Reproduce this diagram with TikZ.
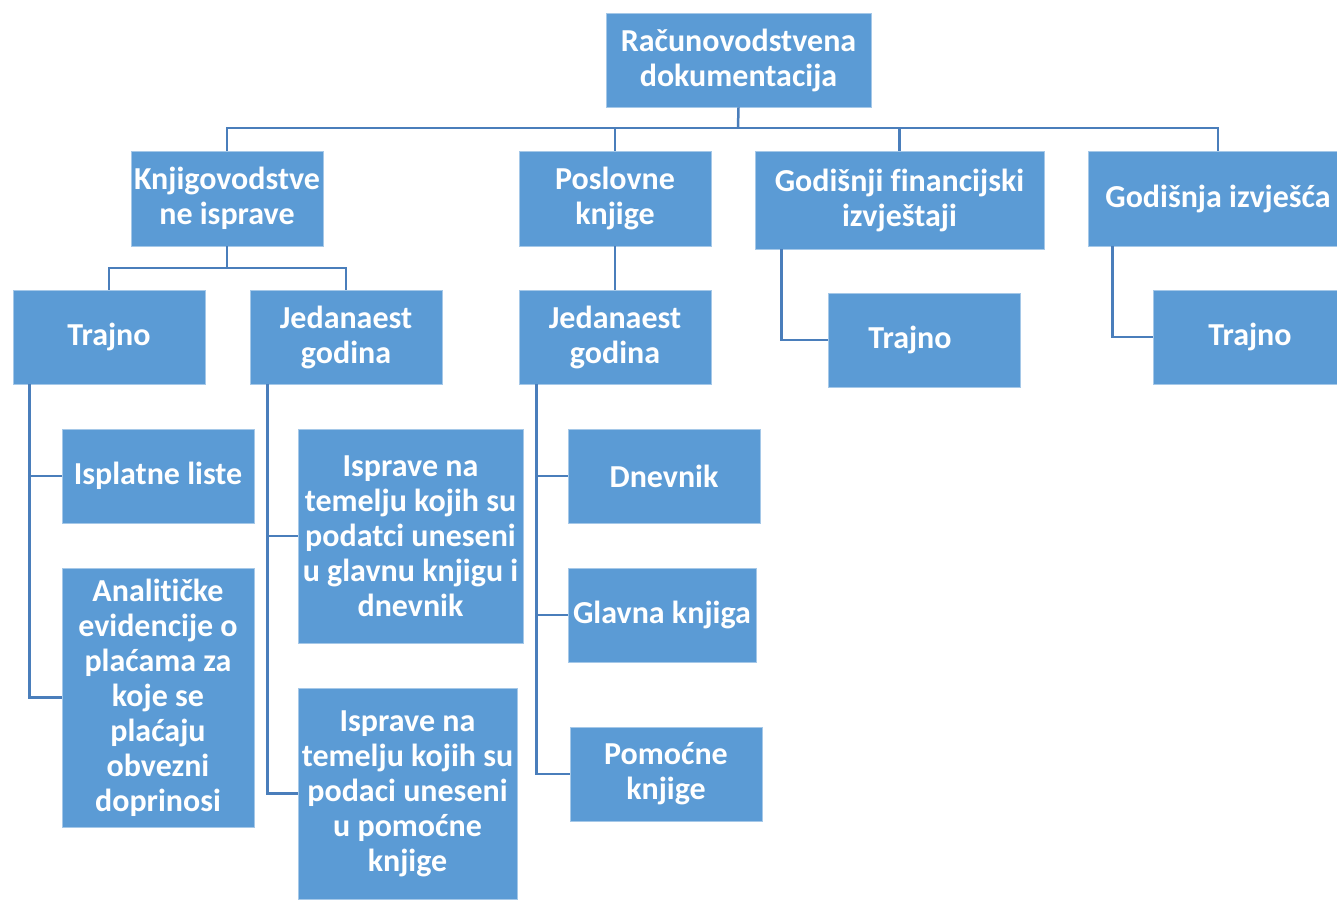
\documentclass[tikz,border=0pt]{standalone}
\usepackage{fontspec}
\setmainfont{Carlito}[Ligatures=NoCommon]
\definecolor{boxblue}{HTML}{5B9BD5}
\definecolor{lineblue}{HTML}{4A7EBB}
\begin{document}
\begin{tikzpicture}[x=1pt,y=-1pt,
  box/.style={fill=boxblue,draw=boxblue!55!white,line width=0.8pt,text=white,
    font=\bfseries\fontsize{32}{35}\selectfont,align=center,inner sep=0pt},
  conn/.style={draw=lineblue,line width=2.5pt}]
\useasboundingbox (0,0) rectangle (1337,900);
\clip (0,0) rectangle (1337,900);
% helper macro for placing box by corners
\newcommand{\pbox}[6]{\node[box,minimum width={#4-#2},minimum height={#5-#3}] (#1) at ({(#2+#4)/2},{(#3+#5)/2}) {#6};}
\pbox{root}{606}{13}{871}{107}{Računovodstvena\\dokumentacija}
\pbox{knj}{131}{151}{323}{246}{Knjigovodstve\\ne isprave}
\pbox{posl}{519}{151}{711}{246}{Poslovne\\knjige}
\pbox{gfi}{755}{151}{1044}{249}{Godišnji financijski\\izvještaji}
\pbox{giz}{1088}{151}{1348}{246}{Godišnja izvješća}
\pbox{traj1}{13}{290}{205}{384}{Trajno}
\pbox{jed1}{250}{290}{442}{384}{Jedanaest\\godina}
\pbox{jed2}{519}{290}{711}{384}{Jedanaest\\godina}
\pbox{traj2}{828}{293}{1020}{387}{Trajno\hspace*{28pt}}
\pbox{traj3}{1153}{290}{1347}{384}{Trajno}
\pbox{ispl}{62}{429}{254}{523}{Isplatne liste}
\pbox{anal}{62}{568}{254}{827}{Analitičke\\evidencije o\\plaćama za\\koje se\\plaćaju\\obvezni\\doprinosi}
\pbox{isp1}{298}{429}{523}{643}{Isprave na\\temelju kojih su\\podatci uneseni\\u glavnu knjigu i\\dnevnik}
\pbox{isp2}{298}{688}{517}{899}{Isprave na\\temelju kojih su\\podaci uneseni\\u pomoćne\\knjige}
\pbox{dnev}{568}{429}{760}{523}{Dnevnik}
\pbox{glav}{568}{568}{756}{662}{Glavna knjiga}
\pbox{pom}{570}{727}{762}{821}{Pomoćne\\knjige}
% connectors
\coordinate (bus) at (738,128);
\draw[conn] (root.south) -- (bus);
\draw[conn] (knj.north) |- (bus) -| (giz.north);
\draw[conn] (posl.north) -- (posl.north |- bus);
\draw[conn] (gfi.north) -- (gfi.north |- bus);
\coordinate (kbus) at (227,268);
\draw[conn] (knj.south) -- (kbus);
\draw[conn] (traj1.north) |- (kbus) -| (jed1.north);
\draw[conn] (posl.south) -- (jed2.north);
\draw[conn] ([xshift=27pt]gfi.south west) |- (traj2.west);
\draw[conn] ([xshift=25pt]giz.south west) |- (traj3.west);
\draw[conn] ([xshift=17pt]traj1.south west) |- (ispl.west);
\draw[conn] ([xshift=17pt]traj1.south west) |- (anal.west);
\draw[conn] ([xshift=18pt]jed1.south west) |- (isp1.west);
\draw[conn] ([xshift=18pt]jed1.south west) |- (isp2.west);
\draw[conn] ([xshift=18pt]jed2.south west) |- (dnev.west);
\draw[conn] ([xshift=18pt]jed2.south west) |- (glav.west);
\draw[conn] ([xshift=18pt]jed2.south west) |- (pom.west);
\end{tikzpicture}
\end{document}
